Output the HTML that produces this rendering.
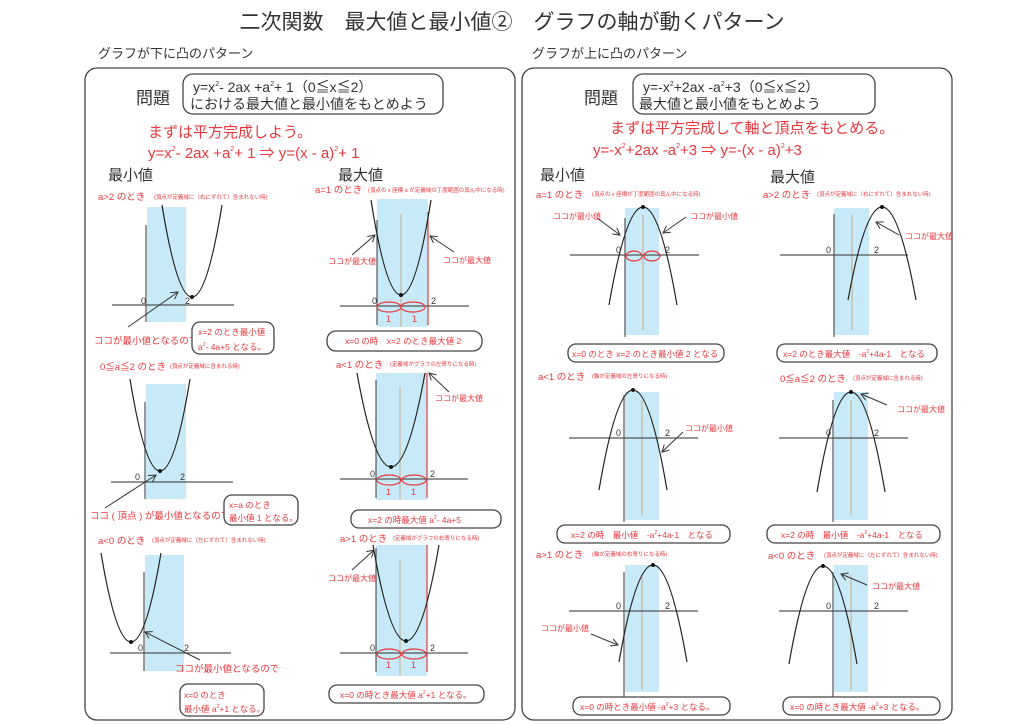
<!DOCTYPE html>
<html><head><meta charset="utf-8"><style>
html,body{margin:0;padding:0;background:#fff;}
svg{display:block;font-family:"Liberation Sans","Noto Sans CJK JP",sans-serif;}
.r{fill:#e8383d;}
.k{fill:#333;}
.ax{stroke:#555;stroke-width:1.2;fill:none;}
.bl{fill:#c8e9f8;}
.cl{stroke:#c9a98a;stroke-width:1;}
.rl{stroke:#e8383d;stroke-width:1.2;}
.pb{stroke:#222;stroke-width:1.2;fill:none;}
.bx{fill:#fff;stroke:#444;stroke-width:1.3;}
.ar{stroke:#333;stroke-width:1;fill:none;marker-end:url(#ah);}
.el{fill:none;stroke:#e8383d;stroke-width:1.2;}
.n{font-size:9px;fill:#333;}
.s{font-size:5.5px;fill:#e8383d;}
.c{font-size:8px;fill:#e8383d;}
.lb{font-size:9.5px;fill:#e8383d;}
.bt{font-size:8.5px;fill:#e8383d;}
</style></head><body>
<svg width="1024" height="724" viewBox="0 0 1024 724" xmlns="http://www.w3.org/2000/svg">
<defs><marker id="ah" markerWidth="8" markerHeight="8" refX="7" refY="4" orient="auto" markerUnits="userSpaceOnUse"><path d="M0,0 L7,4 L0,8" fill="none" stroke="#333" stroke-width="1"/></marker></defs>

<text x="512" y="29" text-anchor="middle" font-size="21" class="k">二次関数　最大値と最小値②　グラフの軸が動くパターン</text>
<text x="98" y="58" font-size="13" class="k">グラフが下に凸のパターン</text>
<text x="532" y="58" font-size="13" class="k">グラフが上に凸のパターン</text>

<rect x="85" y="68" width="430" height="652" rx="12" fill="none" stroke="#444" stroke-width="1.3"/>
<rect x="522" y="68" width="430" height="652" rx="12" fill="none" stroke="#444" stroke-width="1.3"/>

<!-- LEFT header -->
<text x="136" y="104" font-size="17" class="k">問題</text>
<rect x="183" y="74" width="260" height="40" rx="10" class="bx"/>
<text x="193" y="92" font-size="14" class="k">y=x<tspan font-size="7" dy="-6">2</tspan><tspan dy="6">- 2ax +a</tspan><tspan font-size="7" dy="-6">2</tspan><tspan dy="6">+ 1（0≦x≦2）</tspan></text>
<text x="190" y="109" font-size="14" class="k">における最大値と最小値をもとめよう</text>
<text x="148" y="137" font-size="15" class="r">まずは平方完成しよう。</text>
<text x="148" y="158" font-size="15" class="r">y=x<tspan font-size="7" dy="-7">2</tspan><tspan dy="7">- 2ax +a</tspan><tspan font-size="7" dy="-7">2</tspan><tspan dy="7">+ 1 ⇒ y=(x - a)</tspan><tspan font-size="7" dy="-7">2</tspan><tspan dy="7">+ 1</tspan></text>
<text x="108" y="180" font-size="15" class="k">最小値</text>
<text x="338" y="180" font-size="15" class="k">最大値</text>

<!-- G1 a>2 min -->
<text x="98" y="200" class="lb">a&gt;2 のとき</text><text x="154" y="199" class="s">(頂点が定義域に（右にずれて）含まれない時)</text>
<rect x="147" y="207" width="39" height="115" class="bl"/>
<line x1="146" y1="225" x2="146" y2="322" class="ax"/>
<line x1="112" y1="305" x2="234" y2="305" class="ax"/>
<text x="141" y="304" class="n">0</text><text x="185" y="304" class="n">2</text>
<path d="M162,205 Q192,389 222,205" class="pb"/><circle cx="192" cy="297" r="2" fill="#111"/>
<line x1="128" y1="327" x2="178" y2="292" class="ar"/>
<text x="94" y="344" class="lb">ココが最小値となるので</text>
<rect x="192" y="322" width="82" height="32" rx="8" class="bx"/>
<text x="198" y="335" class="bt">x=2 のとき最小値</text>
<text x="198" y="350" class="bt">a<tspan font-size="5" dy="-4">2</tspan><tspan dy="4">- 4a+5 となる。</tspan></text>

<!-- G2 a=1 max -->
<text x="315" y="193" class="lb">a=1 のとき</text><text x="368" y="192" class="s">(頂点の x 座標 a が定義域の丁度範囲の真ん中になる時)</text>
<rect x="377" y="199" width="51" height="128" class="bl"/>
<line x1="377" y1="220" x2="377" y2="325" class="ax"/>
<line x1="401" y1="214" x2="401" y2="327" class="cl"/>
<line x1="428" y1="212" x2="428" y2="325" class="rl"/>
<line x1="340" y1="306" x2="469" y2="306" class="ax"/>
<text x="372" y="304" class="n">0</text><text x="431" y="304" class="n">2</text>
<path d="M371,200 Q401,390 431,200" class="pb"/><circle cx="401" cy="295" r="2" fill="#111"/>
<ellipse cx="389" cy="307" rx="12" ry="5" class="el"/><ellipse cx="413" cy="307" rx="12" ry="5" class="el"/>
<text x="386" y="322" class="n" style="fill:#e8383d">1</text><text x="412" y="322" class="n" style="fill:#e8383d">1</text>
<line x1="352" y1="255" x2="375" y2="235" class="ar"/><line x1="454" y1="252" x2="430" y2="236" class="ar"/>
<text x="328" y="264" class="c">ココが最大値</text><text x="443" y="263" class="c">ココが最大値</text>
<rect x="327" y="331" width="155" height="20" rx="9" class="bx"/>
<text x="345" y="344" class="bt">x=0 の時　x=2 のとき最大値 2</text>

<!-- G3 0<=a<=2 min -->
<text x="100" y="370" class="lb">0≦a≦2 のとき</text><text x="170" y="368" class="s">(頂点が定義域に含まれる時)</text>
<rect x="146" y="384" width="40" height="115" class="bl"/>
<line x1="145" y1="402" x2="145" y2="499" class="ax"/>
<line x1="111" y1="482" x2="233" y2="482" class="ax"/>
<text x="135" y="480" class="n">0</text><text x="180" y="480" class="n">2</text>
<path d="M130,379 Q160,563 190,379" class="pb"/><circle cx="160" cy="471" r="2" fill="#111"/>
<line x1="105" y1="508" x2="156" y2="475" class="ar"/>
<text x="90" y="519" class="lb">ココ ( 頂点 ) が最小値となるので</text>
<rect x="224" y="495" width="74" height="30" rx="8" class="bx"/>
<text x="229" y="508" class="bt">x=a のとき</text>
<text x="229" y="521" class="bt">最小値 1 となる。</text>

<!-- G4 a<0 min -->
<text x="98" y="544" class="lb">a&lt;0 のとき</text><text x="152" y="542" class="s">(頂点が定義域に（左にずれて）含まれない時)</text>
<rect x="145" y="555" width="39" height="116" class="bl"/>
<line x1="144" y1="572" x2="144" y2="671" class="ax"/>
<line x1="110" y1="653" x2="231" y2="653" class="ax"/>
<text x="138" y="651" class="n">0</text><text x="184" y="651" class="n">2</text>
<path d="M101,553 Q131,731 161,553" class="pb"/><circle cx="131" cy="642" r="2" fill="#111"/>
<line x1="200" y1="660" x2="145" y2="632" class="ar"/>
<text x="175" y="672" class="lb">ココが最小値となるので</text>
<rect x="180" y="684" width="84" height="32" rx="8" class="bx"/>
<text x="184" y="698" class="bt">x=0 のとき</text>
<text x="184" y="712" class="bt">最小値 a<tspan font-size="5" dy="-4">2</tspan><tspan dy="4">+1 となる。</tspan></text>

<!-- G5 a<1 max -->
<text x="336" y="368" class="lb">a&lt;1 のとき</text><text x="390" y="366" class="s">(定義域がグラフの左寄りになる時)</text>
<rect x="376" y="373" width="51" height="127" class="bl"/>
<line x1="376" y1="380" x2="376" y2="498" class="ax"/>
<line x1="400" y1="386" x2="400" y2="500" class="cl"/>
<line x1="427" y1="373" x2="427" y2="498" class="rl"/>
<line x1="340" y1="479" x2="468" y2="479" class="ax"/>
<text x="370" y="477" class="n">0</text><text x="430" y="477" class="n">2</text>
<path d="M357,373 Q391,561 425,373" class="pb"/><circle cx="391" cy="467" r="2" fill="#111"/>
<ellipse cx="389" cy="480" rx="12" ry="5" class="el"/><ellipse cx="414" cy="480" rx="12" ry="5" class="el"/>
<text x="386" y="495" class="n" style="fill:#e8383d">1</text><text x="411" y="495" class="n" style="fill:#e8383d">1</text>
<line x1="449" y1="392" x2="429" y2="373" class="ar"/>
<text x="435" y="401" class="c">ココが最大値</text>
<rect x="351" y="510" width="150" height="18" rx="8" class="bx"/>
<text x="368" y="523" class="bt">x=2 の時最大値 a<tspan font-size="5" dy="-4">2</tspan><tspan dy="4">- 4a+5</tspan></text>

<!-- G6 a>1 max -->
<text x="340" y="542" class="lb">a&gt;1 のとき</text><text x="393" y="540" class="s">(定義域がグラフの右寄りになる時)</text>
<rect x="376" y="545" width="51" height="131" class="bl"/>
<line x1="376" y1="548" x2="376" y2="672" class="ax"/>
<line x1="400" y1="560" x2="400" y2="676" class="cl"/>
<line x1="427" y1="545" x2="427" y2="672" class="rl"/>
<line x1="340" y1="653" x2="468" y2="653" class="ax"/>
<text x="370" y="651" class="n">0</text><text x="430" y="651" class="n">2</text>
<path d="M373,545 Q406,737 439,545" class="pb"/><circle cx="406" cy="641" r="2" fill="#111"/>
<ellipse cx="389" cy="654" rx="12" ry="5" class="el"/><ellipse cx="414" cy="654" rx="12" ry="5" class="el"/>
<text x="386" y="668" class="n" style="fill:#e8383d">1</text><text x="411" y="668" class="n" style="fill:#e8383d">1</text>
<line x1="352" y1="570" x2="374" y2="550" class="ar"/>
<text x="328" y="581" class="c">ココが最大値</text>
<rect x="329" y="685" width="155" height="18" rx="8" class="bx"/>
<text x="340" y="698" class="bt">x=0 の時とき最大値 a<tspan font-size="5" dy="-4">2</tspan><tspan dy="4">+1 となる。</tspan></text>

<!-- RIGHT header -->
<text x="584" y="104" font-size="17" class="k">問題</text>
<rect x="633" y="74" width="242" height="40" rx="10" class="bx"/>
<text x="643" y="92" font-size="14" class="k">y=-x<tspan font-size="7" dy="-6">2</tspan><tspan dy="6">+2ax -a</tspan><tspan font-size="7" dy="-6">2</tspan><tspan dy="6">+3（0≦x≦2）</tspan></text>
<text x="639" y="109" font-size="14" class="k">最大値と最小値をもとめよう</text>
<text x="610" y="133" font-size="15" class="r">まずは平方完成して軸と頂点をもとめる。</text>
<text x="593" y="155" font-size="15" class="r">y=-x<tspan font-size="7" dy="-7">2</tspan><tspan dy="7">+2ax -a</tspan><tspan font-size="7" dy="-7">2</tspan><tspan dy="7">+3 ⇒ y=-(x - a)</tspan><tspan font-size="7" dy="-7">2</tspan><tspan dy="7">+3</tspan></text>
<text x="540" y="180" font-size="15" class="k">最小値</text>
<text x="770" y="182" font-size="15" class="k">最大値</text>

<!-- R1 a=1 min -->
<text x="536" y="198" class="lb">a=1 のとき</text><text x="592" y="196" class="s">(頂点の x 座標が丁度範囲の真ん中になる時)</text>
<rect x="625" y="208" width="34" height="127" class="bl"/>
<line x1="625" y1="218" x2="625" y2="337" class="ax"/>
<line x1="643" y1="215" x2="643" y2="330" class="cl"/>
<line x1="570" y1="255" x2="699" y2="255" class="ax"/>
<text x="616" y="253" class="n">0</text><text x="665" y="253" class="n">2</text>
<path d="M609,305 Q643,109 677,305" class="pb"/><circle cx="643" cy="207" r="2" fill="#111"/>
<ellipse cx="634" cy="256" rx="8" ry="5" class="el"/><ellipse cx="652" cy="256" rx="8" ry="5" class="el"/>
<line x1="597" y1="218" x2="620" y2="235" class="ar"/><line x1="686" y1="217" x2="663" y2="233" class="ar"/>
<text x="553" y="219" class="c">ココが最小値</text><text x="690" y="219" class="c">ココが最小値</text>
<rect x="568" y="344" width="156" height="18" rx="8" class="bx"/>
<text x="572" y="357" class="bt">x=0 のとき x=2 のとき最小値 2 となる</text>

<!-- R2 a>2 max -->
<text x="763" y="198" class="lb">a&gt;2 のとき</text><text x="817" y="196" class="s">(頂点が定義域に（右にずれて）含まれない時)</text>
<rect x="834" y="208" width="35" height="127" class="bl"/>
<line x1="834" y1="214" x2="834" y2="337" class="ax"/>
<line x1="852" y1="215" x2="852" y2="330" class="cl"/>
<line x1="780" y1="255" x2="908" y2="255" class="ax"/>
<text x="826" y="253" class="n">0</text><text x="874" y="253" class="n">2</text>
<path d="M848,300 Q882,114 916,300" class="pb"/><circle cx="882" cy="207" r="2" fill="#111"/>
<line x1="899" y1="235" x2="876" y2="222" class="ar"/>
<text x="905" y="239" class="c">ココが最大値</text>
<rect x="777" y="344" width="160" height="18" rx="8" class="bx"/>
<text x="783" y="357" class="bt">x=2 のとき最大値　-a<tspan font-size="5" dy="-4">2</tspan><tspan dy="4">+4a-1　となる</tspan></text>

<!-- R3 a<1 min -->
<text x="538" y="380" class="lb">a&lt;1 のとき</text><text x="592" y="378" class="s">(軸が定義域の左寄りになる時)</text>
<rect x="625" y="392" width="34" height="128" class="bl"/>
<line x1="624" y1="395" x2="624" y2="522" class="ax"/>
<line x1="642" y1="400" x2="642" y2="515" class="cl"/>
<line x1="569" y1="438" x2="698" y2="438" class="ax"/>
<text x="616" y="436" class="n">0</text><text x="665" y="436" class="n">2</text>
<path d="M599,490 Q633,290 667,490" class="pb"/><circle cx="633" cy="390" r="2" fill="#111"/>
<line x1="683" y1="432" x2="662" y2="452" class="ar"/>
<text x="685" y="431" class="c">ココが最小値</text>
<rect x="557" y="525" width="173" height="18" rx="8" class="bx"/>
<text x="571" y="538" class="bt">x=2 の時　最小値　-a<tspan font-size="5" dy="-4">2</tspan><tspan dy="4">+4a-1　となる</tspan></text>

<!-- R4 0<=a<=2 max -->
<text x="780" y="382" class="lb">0≦a≦2 のとき</text><text x="853" y="380" class="s">(頂点が定義域に含まれる時)</text>
<rect x="834" y="392" width="34" height="128" class="bl"/>
<line x1="833" y1="400" x2="833" y2="522" class="ax"/>
<line x1="851" y1="400" x2="851" y2="515" class="cl"/>
<line x1="779" y1="438" x2="908" y2="438" class="ax"/>
<text x="826" y="436" class="n">0</text><text x="874" y="436" class="n">2</text>
<path d="M817,492 Q851,292 885,492" class="pb"/><circle cx="851" cy="392" r="2" fill="#111"/>
<line x1="887" y1="405" x2="861" y2="394" class="ar"/>
<text x="897" y="412" class="c">ココが最大値</text>
<rect x="767" y="525" width="173" height="18" rx="8" class="bx"/>
<text x="781" y="538" class="bt">x=2 の時　最小値　-a<tspan font-size="5" dy="-4">2</tspan><tspan dy="4">+4a-1　となる</tspan></text>

<!-- R5 a>1 min -->
<text x="536" y="558" class="lb">a&gt;1 のとき</text><text x="592" y="556" class="s">(軸が定義域の右寄りになる時)</text>
<rect x="625" y="565" width="34" height="127" class="bl"/>
<line x1="624" y1="572" x2="624" y2="697" class="ax"/>
<line x1="642" y1="575" x2="642" y2="690" class="cl"/>
<line x1="569" y1="611" x2="698" y2="611" class="ax"/>
<text x="616" y="609" class="n">0</text><text x="665" y="609" class="n">2</text>
<path d="M619,662 Q653,468 687,662" class="pb"/><circle cx="653" cy="565" r="2" fill="#111"/>
<line x1="591" y1="634" x2="618" y2="645" class="ar"/>
<text x="541" y="631" class="c">ココが最小値</text>
<rect x="573" y="697" width="157" height="18" rx="8" class="bx"/>
<text x="580" y="710" class="bt">x=0 の時とき最小値 -a<tspan font-size="5" dy="-4">2</tspan><tspan dy="4">+3 となる。</tspan></text>

<!-- R6 a<0 max -->
<text x="768" y="559" class="lb">a&lt;0 のとき</text><text x="824" y="557" class="s">(頂点が定義域に（左にずれて）含まれない時)</text>
<rect x="834" y="565" width="34" height="127" class="bl"/>
<line x1="833" y1="572" x2="833" y2="697" class="ax"/>
<line x1="851" y1="575" x2="851" y2="690" class="cl"/>
<line x1="779" y1="611" x2="908" y2="611" class="ax"/>
<text x="826" y="609" class="n">0</text><text x="874" y="609" class="n">2</text>
<path d="M789,664 Q823,468 857,664" class="pb"/><circle cx="823" cy="566" r="2" fill="#111"/>
<line x1="867" y1="585" x2="841" y2="574" class="ar"/>
<text x="872" y="589" class="c">ココが最大値</text>
<rect x="783" y="697" width="157" height="18" rx="8" class="bx"/>
<text x="790" y="710" class="bt">x=0 の時とき最大値 -a<tspan font-size="5" dy="-4">2</tspan><tspan dy="4">+3 となる。</tspan></text>
</svg>
</body></html>
